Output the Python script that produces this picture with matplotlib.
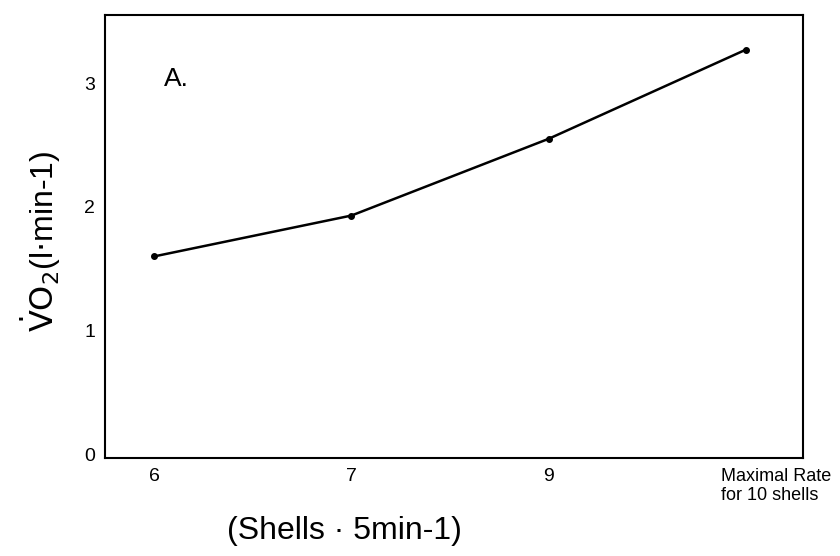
import matplotlib
matplotlib.use("Agg")
import matplotlib.pyplot as plt
import matplotlib.transforms as mtransforms

# data
categories = ["6", "7", "9", "Maximal Rate\nfor 10 shells"]
vo2 = [1.60, 1.93, 2.55, 3.27]
yticks = [0, 1, 2, 3]

plt.rcParams['font.family'] = ['Liberation Sans', 'DejaVu Sans']

fig = plt.figure(figsize=(8.4, 5.56), dpi=100)
ax = fig.add_axes([0.125, 0.176, 0.831, 0.797])

x = list(range(len(categories)))
ax.plot(x, vo2, color='black', lw=1.8, marker='o', ms=4)

ax.set_xlim(-0.25, 3.29)
ax.set_ylim(-0.03, 3.55)
ax.set_xticks(x)
ax.set_xticklabels(categories)
ax.set_yticks(yticks)
ax.tick_params(length=0, labelsize=14, pad=7)
for sp in ax.spines.values():
    sp.set_linewidth(1.5)

# last label sits right of its point, left-aligned in two lines
last = ax.get_xticklabels()[-1]
last.set_fontsize(13)
last.set_transform(last.get_transform() + mtransforms.ScaledTranslation(0.30, 0, fig.dpi_scale_trans))
last.set_multialignment('left')

ax.set_xlabel("(Shells \u00b7 5min-1)", fontsize=23)
ax.xaxis.set_label_coords(0.343, -0.13)
ax.set_ylabel("$\\dot{\\mathrm{V}}\\mathrm{O}_2$(l$\\cdot$min-1)", fontsize=23)
ax.yaxis.set_label_coords(-0.06, 0.49)

ax.text(0.085, 0.84, "A.", transform=ax.transAxes, fontsize=19)

fig.savefig("out.png", dpi=100)
